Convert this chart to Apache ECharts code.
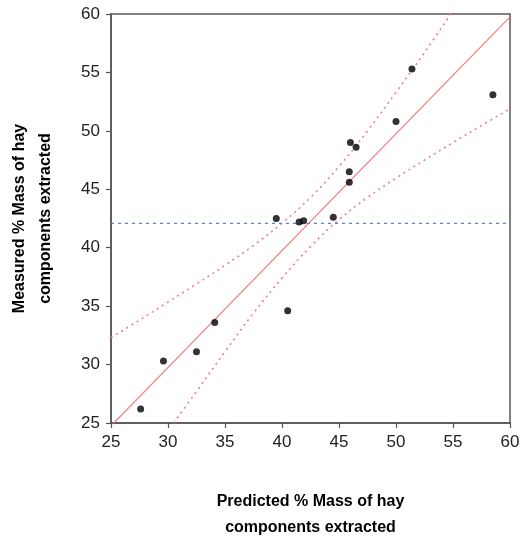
<!DOCTYPE html>
<html>
<head>
<meta charset="utf-8">
<script src="https://cdn.jsdelivr.net/npm/echarts@6/dist/echarts.min.js"></script>
<style>
  html, body { margin: 0; padding: 0; background: #fff; }
  #chart { width: 523px; height: 541px; }
</style>
</head>
<body>
<div id="chart"></div>
<script>
// Predicted vs measured % mass of hay components extracted
const predicted = [27.6, 29.6, 32.5, 34.1, 40.5, 39.5, 41.5, 41.9, 44.5, 45.9, 45.9, 46.0, 46.5, 50.0, 51.4, 58.5];
const measured  = [26.2, 30.3, 31.1, 33.6, 34.6, 42.5, 42.2, 42.3, 42.6, 45.6, 46.5, 49.0, 48.6, 50.8, 55.3, 53.1];

// Fitted line (two end points)
const fitX = [25, 60];
const fitY = [24.75, 59.75];

// Upper and lower dotted bands
const upperX = [25, 27.5, 30, 32.5, 35, 37.5, 40, 42.5, 45, 47.5, 50, 52.5, 55];
const upperY = [32.3, 33.8, 35.35, 36.9, 38.5, 40.2, 42.1, 44.3, 46.95, 50.0, 53.3, 56.7, 60.3];
const lowerX = [30.5, 32.5, 35, 37.5, 40, 42.5, 45, 47.5, 50, 52.5, 55, 57.5, 60];
const lowerY = [25.0, 27.7, 31.1, 34.4, 37.4, 40.1, 42.4, 44.3, 45.95, 47.5, 49.0, 50.45, 51.9];

// Mean measured value (horizontal reference)
const meanY = 42.08;

// Axis range and tick step
const axisMin = 25, axisMax = 60, tickStep = 5;

const zip = (xs, ys) => xs.map((x, i) => [x, ys[i]]);

const font = 'Liberation Sans, Arial, sans-serif';
const axisCommon = {
  type: 'value',
  min: axisMin,
  max: axisMax,
  interval: tickStep,
  axisLine: { show: true, lineStyle: { color: '#555', width: 1.5 } },
  axisTick: { show: true, inside: false, length: 5, lineStyle: { color: '#555', width: 1.2 } },
  splitLine: { show: false },
  axisLabel: { color: '#222', fontSize: 17, fontFamily: font, margin: 11 },
  nameLocation: 'middle',
  nameTextStyle: { color: '#000', fontSize: 16, fontWeight: 'bold', fontFamily: font, lineHeight: 26 }
};

const chart = echarts.init(document.getElementById('chart'), null, { renderer: 'canvas' });
chart.setOption({
  animation: false,
  backgroundColor: '#fff',
  grid: {
    left: 111, right: 13, top: 14, bottom: 118,
    outerBoundsMode: 'none', containLabel: false,
    show: true, borderColor: '#555', borderWidth: 1.5, backgroundColor: 'transparent'
  },
  xAxis: Object.assign({}, axisCommon, {
    name: 'Predicted % Mass of hay\ncomponents extracted',
    nameGap: 66
  }),
  yAxis: Object.assign({}, axisCommon, {
    name: 'Measured % Mass of hay\ncomponents extracted',
    nameGap: 52,
    nameRotate: 90
  }),
  series: [
    {
      type: 'line', data: zip(fitX, fitY), symbol: 'none', clip: true,
      lineStyle: { color: '#f27c7c', width: 1.2 }, z: 2
    },
    {
      type: 'line', data: zip(upperX, upperY), symbol: 'none', smooth: 0.4, clip: true,
      lineStyle: { color: '#f27c8a', width: 1.6, type: [2, 4] }, z: 2
    },
    {
      type: 'line', data: zip(lowerX, lowerY), symbol: 'none', smooth: 0.4, clip: true,
      lineStyle: { color: '#f27c8a', width: 1.6, type: [2, 4] }, z: 2
    },
    {
      type: 'line', data: [[axisMin, meanY], [axisMax, meanY]], symbol: 'none', clip: true,
      lineStyle: { color: '#5b7fe0', width: 1.2, type: [3, 4] }, z: 2
    },
    {
      type: 'scatter', data: zip(predicted, measured), symbol: 'circle', symbolSize: 7,
      itemStyle: { color: '#000' }, z: 3
    }
  ]
});
</script>
</body>
</html>
